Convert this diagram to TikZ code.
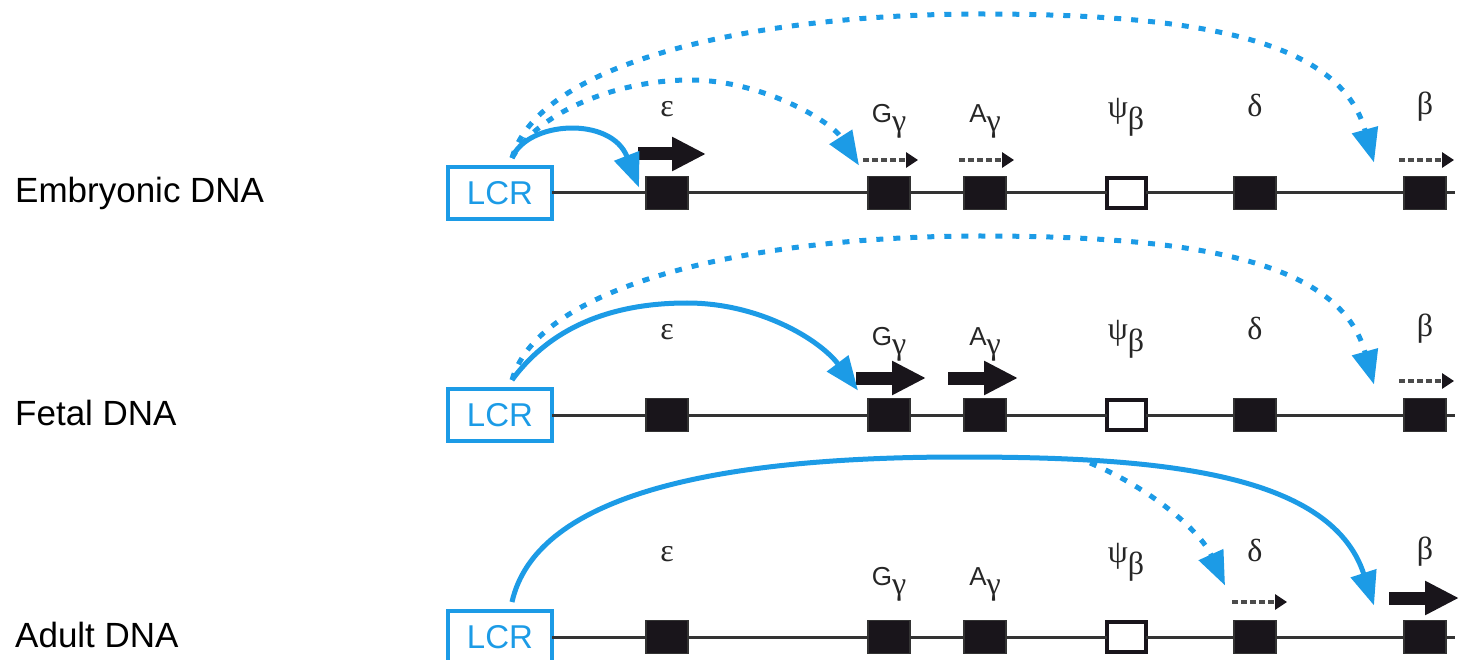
\documentclass[tikz,border=0pt]{standalone}
\usepackage{fontspec}
\setmainfont{Liberation Sans}
\newfontfamily\grk{Liberation Serif}
\usetikzlibrary{arrows.meta}

\definecolor{lcrblue}{RGB}{28,155,230}
\definecolor{genegray}{RGB}{25,21,27}

\newcommand\gk[1]{{\grk\fontsize{32}{36}\selectfont #1}}
\newcommand\gsub[2]{#1\raisebox{-9pt}{\gk{#2}}}

\tikzset{
  gene/.style={draw=black!80, line width=1.2pt, fill=genegray, minimum width=42pt,
    minimum height=33pt, inner sep=0pt, outer sep=0pt},
  pseudo/.style={gene, draw=genegray, fill=white, line width=4pt, minimum width=39pt,
    minimum height=30pt},
  lcr/.style={draw=lcrblue, line width=3.5pt, text=lcrblue, minimum width=104pt,
    minimum height=52pt, inner sep=0pt, outer sep=0pt, font=\fontsize{33}{36}\selectfont},
  dna/.style={line width=3pt, black!80},
  rowname/.style={anchor=base west, inner sep=0pt, font=\fontsize{35}{40}\selectfont},
  glabel/.style={anchor=base, inner sep=0pt, font=\fontsize{26}{30}\selectfont, text=black!85},
  bigarr/.style={genegray, line width=13pt, -{Triangle[length=34pt,width=32pt]}},
  smallarr/.style={black!70, line width=3.5pt, dash pattern=on 6pt off 3pt,
    -{Triangle[length=12pt,width=15pt,color=genegray]}},
  lcrarc/.style={lcrblue, line width=5pt, -{Triangle[length=34pt,width=26pt]}},
  lcrdot/.style={lcrarc, dash pattern=on 7pt off 10pt},
}

\begin{document}
\begin{tikzpicture}[x=1pt,y=-1pt]
  \useasboundingbox (0,0) rectangle (1462,660);

  % the three globin loci
  \foreach \r/\ly/\gy/\rname in {1/193/70/Embryonic DNA, 2/415/70/Fetal DNA, 3/637/52/Adult DNA} {
    \node[rowname] (row\r) at (15,\ly+10) {\rname};
    \node[lcr] (lcr\r) at (500,\ly) {LCR};
    \foreach \g/\gx in {eps/667,gg/889,ag/985,del/1255,bet/1425}
      \node[gene] (\g\r) at (\gx,\ly) {};
    \node[pseudo] (psi\r) at (1126,\ly) {};
    \coordinate (end\r) at (1455,\ly);
    \draw[dna] (lcr\r) -- (eps\r) -- (gg\r) -- (ag\r) -- (psi\r) -- (del\r) -- (bet\r) -- (end\r);

    \node[glabel] (leps\r) at ([yshift=76pt]eps\r.center) {\gk{ε}};
    \node[glabel] (lgg\r) at ([yshift=\gy pt]gg\r.center) {\gsub{G}{γ}};
    \node[glabel] (lag\r) at ([yshift=\gy pt]ag\r.center) {\gsub{A}{γ}};
    \node[glabel] (lpsi\r) at ([yshift=75pt]psi\r.center) {\gk{ψ}\raisebox{-12pt}{\gk{β}}};
    \node[glabel] (ldel\r) at ([yshift=76pt]del\r.center) {\gk{δ}};
    \node[glabel] (lbet\r) at ([yshift=78pt]bet\r.center) {\gk{β}};

    \coordinate (src\r) at ([shift={(12pt,9pt)}]lcr\r.north);
  }

  % embryonic
  \draw[bigarr] ([shift={(-8pt,39pt)}]eps1.west) -- +(68,0);
  \foreach \g in {gg1,ag1,bet1}
    \draw[smallarr] ([shift={(-5pt,33pt)}]\g.west) -- +(55,0);
  \draw[lcrarc] (src1) .. controls +(15,-37) and +(-28,-72) .. ([shift={(-7pt,-11pt)}]eps1.north west);
  \draw[lcrdot] (src1) .. controls (540,110) and (620,80) .. (690,80)
    .. controls (760,80) and (830,120) .. ([shift={(-9pt,11pt)}]gg1.north west);
  \draw[lcrdot] (src1) .. controls (540,60) and (760,14) .. (980,14)
    .. controls (1200,14) and (1340,40) .. ([shift={(-30pt,14pt)}]bet1.north west);

  % fetal
  \draw[bigarr] ([shift={(-12pt,37pt)}]gg2.west) -- +(70,0);
  \draw[bigarr] ([shift={(-16pt,37pt)}]ag2.west) -- +(70,0);
  \draw[smallarr] ([shift={(-5pt,34pt)}]bet2.west) -- +(55,0);
  \draw[lcrarc] (src2) .. controls (545,335) and (600,303) .. (687,303)
    .. controls (760,303) and (820,340) .. ([shift={(-10pt,8pt)}]gg2.north west);
  \draw[lcrdot] (src2) .. controls (540,282) and (760,236) .. (980,236)
    .. controls (1200,236) and (1340,262) .. ([shift={(-30pt,14pt)}]bet2.north west);

  % adult
  \draw[bigarr] ([shift={(-15pt,39pt)}]bet3.west) -- +(70,0);
  \draw[smallarr] ([shift={(-2pt,35pt)}]del3.west) -- +(55,0);
  \coordinate (fork) at (1090,463);
  \draw[lcrarc] (src3) .. controls (535,500) and (700,457) .. (960,457)
    .. controls (1150,457) and (1330,470) .. ([shift={(-30pt,15pt)}]bet3.north west);
  \draw[lcrdot] (fork) .. controls +(60,25) and +(-25,-55) .. ([shift={(-9pt,35pt)}]del3.north west);
\end{tikzpicture}
\end{document}
